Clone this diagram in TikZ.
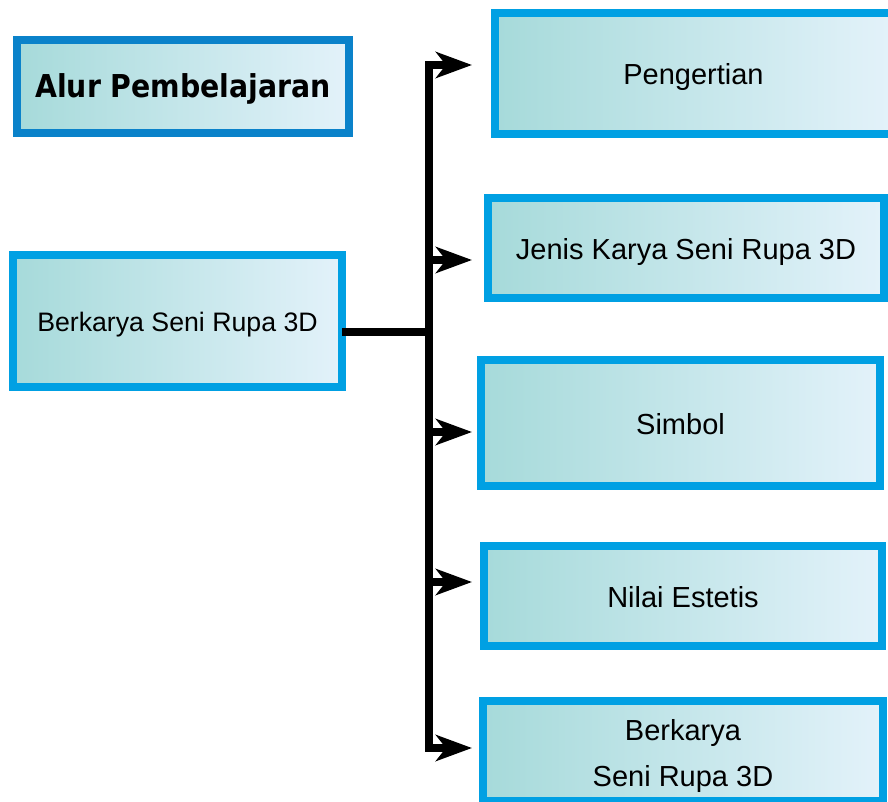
\documentclass[tikz,border=0pt]{standalone}
\usepackage{fontspec}
\setmainfont{Liberation Sans}
\newfontfamily\titlefont{DejaVu Sans Condensed}
\usetikzlibrary{arrows.meta}
\definecolor{bordblue}{HTML}{00A0E3}
\definecolor{titleblue}{HTML}{0A82CA}
\definecolor{fillL}{HTML}{A6DADA}
\definecolor{fillR}{HTML}{E3F2FA}
\tikzset{
  box/.style={draw=bordblue, line width=8pt, left color=fillL, right color=fillR,
    inner sep=0pt, outer sep=0pt, align=center, font=\fontsize{29}{46}\selectfont,
    text height=22pt, text depth=0pt},
  titlebox/.style={box, draw=titleblue, font=\titlefont\bfseries\fontsize{31.5}{38}\selectfont,
    text height=23pt},
  conn/.style={line width=8pt, black},
  tip/.style={-{Stealth[length=36pt, width=26pt, inset=10pt]}},
}
\begin{document}
\begin{tikzpicture}[x=1pt, y=-1pt]
\useasboundingbox (0,0) rectangle (888,802);
% boxes (centre line geometry)
\node[titlebox, minimum width=332pt, minimum height=93pt] (title) at (183,86.5) {Alur Pembelajaran};
\node[box, minimum width=397pt, minimum height=121pt] (pg) at (693.5,73.5) {Pengertian};
\node[box, minimum width=396pt, minimum height=100pt] (jk) at (686,248) {Jenis Karya Seni Rupa 3D};
\node[box, minimum width=329pt, minimum height=132pt, font=\fontsize{26.7}{32}\selectfont, text height=21pt] (bk) at (177.5,321) {Berkarya Seni Rupa 3D};
\node[box, minimum width=399pt, minimum height=126pt] (sb) at (680.5,423) {Simbol};
\node[box, minimum width=398pt, minimum height=100pt] (ne) at (683,596) {Nilai Estetis};
\node[box, minimum width=400pt, minimum height=100pt,
  label={[font=\fontsize{29}{46}\selectfont, align=center, yshift=-5pt]center:Berkarya\\Seni Rupa 3D}] (bs) at (683,751) {};
% connector coordinates
\coordinate (jn) at (429,332);
\coordinate (c1) at (429,65);
\coordinate (c2) at (429,260);
\coordinate (c3) at (429,432);
\coordinate (c4) at (429,582);
\coordinate (c5) at (429,748);
\coordinate (a1) at (472,65);
\coordinate (a2) at (472,260);
\coordinate (a3) at (472,432);
\coordinate (a4) at (472,582);
\coordinate (a5) at (472,748);
% connectors
\draw[conn] (bk.east |- jn) -- (jn);
\draw[conn, {Stealth[length=36pt, width=26pt, inset=10pt]}-{Stealth[length=36pt, width=26pt, inset=10pt]}, line join=miter]
  (a1) -- (c1) -- (c5) -- (a5);
\draw[conn, tip] (c2) -- (a2);
\draw[conn, tip] (c3) -- (a3);
\draw[conn, tip] (c4) -- (a4);
\end{tikzpicture}
\end{document}
